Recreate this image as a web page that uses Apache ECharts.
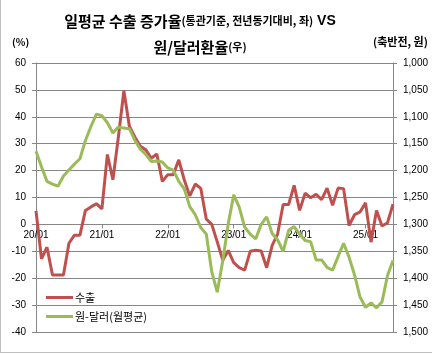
<!DOCTYPE html>
<html>
<head>
<meta charset="utf-8">
<script src="https://cdn.jsdelivr.net/npm/echarts@6/dist/echarts.min.js"></script>
<style>
  html, body { margin: 0; padding: 0; background: #fff; }
  #chart { width: 432px; height: 354px; }
</style>
</head>
<body>
<div id="chart"></div>
<script>
// 월별 (2020/01 ~ 2025/06)
const months = [
  '20/01','20/02','20/03','20/04','20/05','20/06','20/07','20/08','20/09','20/10','20/11','20/12',
  '21/01','21/02','21/03','21/04','21/05','21/06','21/07','21/08','21/09','21/10','21/11','21/12',
  '22/01','22/02','22/03','22/04','22/05','22/06','22/07','22/08','22/09','22/10','22/11','22/12',
  '23/01','23/02','23/03','23/04','23/05','23/06','23/07','23/08','23/09','23/10','23/11','23/12',
  '24/01','24/02','24/03','24/04','24/05','24/06','24/07','24/08','24/09','24/10','24/11','24/12',
  '25/01','25/02','25/03','25/04','25/05','25/06',
];

// 일평균 수출 증가율 (%, 좌축)
const exportYoY = [
  5.0, -12.8, -8.5, -18.8, -18.8, -18.8, -7.0, -4.0, -4.0, 5.2, 6.5, 7.7,
  5.8, 26.0, 16.6, 32.5, 49.7, 36.5, 32.5, 29.0, 27.7, 24.6, 26.2, 16.0,
  18.5, 18.5, 24.0, 16.5, 10.6, 15.0, 13.4, 2.0, 0.0, -6.5, -13.3, -9.7,
  -14.2, -16.1, -17.0, -10.0, -9.6, -9.9, -16.1, -7.8, -3.5, 7.4, 7.4, 14.5,
  5.2, 11.6, 9.9, 11.2, 9.2, 13.5, 7.1, 13.5, 13.3, -0.4, 3.6, 4.6,
  8.0, -6.6, 5.2, -0.6, 0.6, 7.5,
];

// 원/달러 환율 월평균 (원, 우축 반전)
const krwUsd = [
  1164, 1193, 1220, 1225, 1229, 1210, 1199, 1188, 1178, 1144, 1118, 1095,
  1098, 1111, 1130, 1119, 1121, 1122, 1144, 1160, 1170, 1183, 1182, 1184,
  1195, 1199, 1220, 1234, 1267, 1282, 1306, 1318, 1388, 1426, 1368, 1299,
  1245, 1268, 1305, 1318, 1327, 1300, 1286, 1317, 1329, 1350, 1311, 1304,
  1318, 1330, 1332, 1366, 1366, 1380, 1385, 1360, 1335, 1361, 1394, 1435,
  1454, 1446, 1455, 1444, 1395, 1367,
];

const seriesNames = ['수출', '원-달러(월평균)'];

const KR = '"Noto Sans CJK KR", sans-serif';
const NUM = '"Liberation Sans", Arial, sans-serif';
const gridClr = '#868686';
const redClr = '#C0504D';
const greenClr = '#9BBB59';
const GRID = { left: 36, right: 39, top: 63, bottom: 22 };

const chart = echarts.init(document.getElementById('chart'), null, { renderer: 'canvas' });

// ── 범례 (선 샘플 + 라벨) ─────────────────────────────
function legendItems() {
  const out = [];
  [redClr, greenClr].forEach((c, i) => {
    const y = 297.5 + i * 19;
    out.push({ type: 'line', z: 10, shape: { x1: 46, y1: y, x2: 73, y2: y },
      style: { stroke: c, lineWidth: 3 } });
    out.push({ type: 'text', z: 10, x: 75, y: y,
      style: { text: seriesNames[i], font: '11px ' + KR, fill: '#000', verticalAlign: 'middle' } });
  });
  return out;
}

function buildOption(xOffset) {
  return {
    backgroundColor: '#fff',
    animation: false,
    title: {
      text: '{a|일평균 수출 증가율}{b|(통관기준, 전년동기대비, 좌)}{c| VS}\n{a|원/달러환율}{b|(우)}',
      left: 195, top: 3, textAlign: 'center',
      textStyle: {
        rich: {
          a: { fontFamily: KR, fontSize: 15, fontWeight: 'bold', color: '#000', lineHeight: 26 },
          b: { fontFamily: KR, fontSize: 11, fontWeight: 'bold', color: '#000', lineHeight: 26 },
          c: { fontFamily: NUM, fontSize: 14, fontWeight: 'bold', color: '#000', lineHeight: 26 },
        },
      },
    },
    graphic: [
      { type: 'text', left: 12, top: 37, style: { text: '(%)', font: 'bold 10px ' + KR, fill: '#000' } },
      { type: 'text', left: 373, top: 36, style: { text: '(축반전, 원)', font: 'bold 11px ' + KR, fill: '#000' } },
      { type: 'line', shape: { x1: 0.5, y1: 0, x2: 0.5, y2: 352 }, style: { stroke: '#bfbfbf', lineWidth: 1 } },
      { type: 'line', shape: { x1: 0, y1: 352.5, x2: 432, y2: 352.5 }, style: { stroke: '#bfbfbf', lineWidth: 1 } },
      ...legendItems(),
    ],
    grid: GRID,
    xAxis: {
      type: 'category', data: months, boundaryGap: false,
      offset: xOffset,
      axisLine: { onZero: false, lineStyle: { color: gridClr } },
      axisTick: { show: true, interval: 11, length: 4, lineStyle: { color: gridClr } },
      axisLabel: { interval: 11, color: '#000', fontFamily: NUM, fontSize: 10, margin: 6 },
      splitLine: { show: false },
    },
    yAxis: [
      {
        type: 'value', min: -40, max: 60, interval: 10,
        axisLine: { show: true, onZero: false, lineStyle: { color: gridClr } },
        axisTick: { show: true, length: 4, lineStyle: { color: gridClr } },
        axisLabel: { color: '#000', fontFamily: NUM, fontSize: 10, margin: 10 },
        splitLine: { lineStyle: { color: gridClr, width: 1 } },
      },
      {
        type: 'value', position: 'right', inverse: true,
        min: 1000, max: 1500, interval: 50,
        axisLine: { show: true, onZero: false, lineStyle: { color: gridClr } },
        axisTick: { show: true, length: 4, lineStyle: { color: gridClr } },
        axisLabel: {
          color: '#000', fontFamily: NUM, fontSize: 10, margin: 10,
          formatter: v => v.toLocaleString('en-US'),
        },
        splitLine: { show: false },
      },
    ],
    series: [
      {
        name: seriesNames[0], type: 'line', data: exportYoY, yAxisIndex: 0,
        symbol: 'none', itemStyle: { color: redClr },
        lineStyle: { color: redClr, width: 3 },
      },
      {
        name: seriesNames[1], type: 'line', data: krwUsd, yAxisIndex: 1,
        symbol: 'none', itemStyle: { color: greenClr },
        lineStyle: { color: greenClr, width: 3 },
      },
    ],
  };
}

// 1차 렌더 후, 좌축 0 위치로 x축을 끌어올림
chart.setOption(buildOption(0));
const zeroY = chart.convertToPixel({ yAxisIndex: 0 }, 0);
const bottomY = chart.convertToPixel({ yAxisIndex: 0 }, -40);
chart.setOption(buildOption(zeroY - bottomY), { notMerge: true });
</script>
</body>
</html>
